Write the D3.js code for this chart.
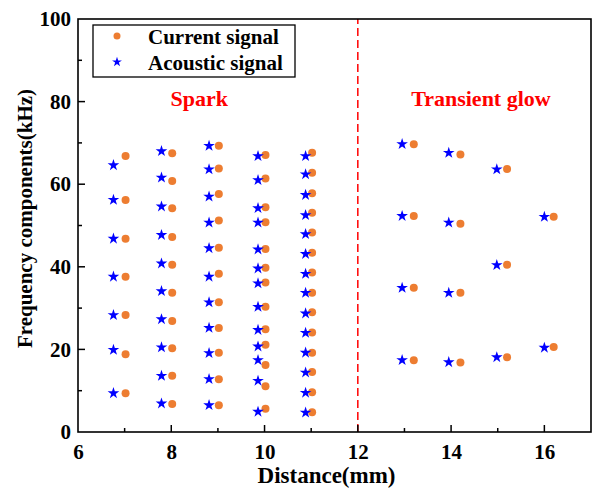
<!DOCTYPE html>
<html>
<head>
<meta charset="utf-8">
<script src="https://cdn.jsdelivr.net/npm/d3@7"></script>
<style>
  body { margin: 0; background: #fff; }
  text { font-family: "Liberation Serif", "Times New Roman", serif; font-weight: bold; }
</style>
</head>
<body>
<div id="chart"></div>
<script>
// x positions of each column (mm)
const currentX = [7.02, 8.02, 9.02, 10.02, 11.02, 13.2, 14.2, 15.2, 16.2];
const acousticX = [6.76, 7.79, 8.81, 9.86, 10.88, 12.95, 13.95, 14.98, 16.0];

// frequency components (kHz) per column
const currentFreq = [
  [66.8, 56.2, 46.8, 37.6, 28.3, 18.8, 9.4],
  [67.5, 60.8, 54.2, 47.2, 40.5, 33.7, 26.9, 20.3, 13.6, 6.8],
  [69.3, 63.8, 57.6, 51.2, 44.6, 38.3, 31.4, 25.2, 19.2, 12.8, 6.5],
  [67.1, 61.4, 54.4, 50.8, 44.3, 39.8, 36.2, 30.3, 24.9, 21.1, 16.2, 11.1, 5.6],
  [67.6, 62.8, 57.8, 53.1, 48.3, 43.4, 38.6, 33.7, 29.0, 24.1, 19.2, 14.5, 9.6, 4.8],
  [69.7, 52.3, 34.9, 17.4],
  [67.2, 50.4, 33.7, 16.8],
  [63.7, 40.5, 18.1],
  [52.1, 20.6]
];
const acousticFreq = [
  [64.6, 56.2, 46.8, 37.6, 28.3, 19.9, 9.4],
  [68.0, 61.6, 54.6, 47.7, 40.8, 34.1, 27.3, 20.5, 13.6, 6.9],
  [69.3, 63.6, 57.0, 50.7, 44.5, 37.6, 31.4, 25.2, 19.1, 12.8, 6.5],
  [66.8, 61.0, 54.2, 50.7, 44.2, 39.6, 36.0, 30.3, 24.7, 20.7, 17.4, 12.4, 4.9],
  [66.8, 62.4, 57.4, 52.5, 47.9, 43.1, 38.3, 33.7, 28.7, 24.0, 19.2, 14.4, 9.5, 4.7],
  [69.7, 52.3, 34.9, 17.4],
  [67.6, 50.7, 33.7, 16.9],
  [63.6, 40.4, 18.1],
  [52.1, 20.4]
];

const xTicks = [6, 8, 10, 12, 14, 16];
const yTicks = [0, 20, 40, 60, 80, 100];
const boundaryX = 12;
const regionLabels = [
  { text: "Spark", x: 8.6, y: 79 },
  { text: "Transient glow", x: 14.64, y: 79 }
];
const legendItems = ["Current signal", "Acoustic signal"];

const width = 593, height = 491;
const margin = { top: 19, right: 2, bottom: 59, left: 78 };
const orange = "#ED7D31", blue = "#0000FF", red = "#FF0000";

const svg = d3.select("#chart").append("svg")
  .attr("width", width)
  .attr("height", height);

const x = d3.scaleLinear().domain([6, 17]).range([margin.left, width - margin.right]);
const y = d3.scaleLinear().domain([0, 100]).range([height - margin.bottom, margin.top]);

// flatten points
const currentPts = [];
currentX.forEach((cx, i) => currentFreq[i].forEach(f => currentPts.push([cx, f])));
const acousticPts = [];
acousticX.forEach((ax, i) => acousticFreq[i].forEach(f => acousticPts.push([ax, f])));

// dashed boundary
svg.append("line")
  .attr("x1", x(boundaryX)).attr("x2", x(boundaryX))
  .attr("y1", y(0)).attr("y2", y(100))
  .attr("stroke", red)
  .attr("stroke-width", 1.5)
  .attr("stroke-dasharray", "8,4");

// axes
const xAxis = svg.append("g")
  .attr("transform", `translate(0,${y(0)})`)
  .call(d3.axisBottom(x).tickValues(xTicks).tickSize(0).tickPadding(12).tickFormat(d3.format("d")));
const yAxis = svg.append("g")
  .attr("transform", `translate(${x(6)},0)`)
  .call(d3.axisLeft(y).tickValues(yTicks).tickSize(0).tickPadding(7).tickFormat(d3.format("d")));
[xAxis, yAxis].forEach(g => {
  g.select(".domain").remove();
  g.selectAll("text").attr("font-size", 21).attr("fill", "#000")
    .attr("font-family", "Liberation Serif, Times New Roman, serif").attr("font-weight", "bold");
});
xAxis.selectAll("text").attr("dy", "0.71em");

// inward ticks
svg.append("g").selectAll("line")
  .data(d3.range(7, 17))
  .enter().append("line")
  .attr("x1", d => x(d)).attr("x2", d => x(d))
  .attr("y1", y(0)).attr("y2", d => y(0) - (d % 2 === 0 ? 7 : 4))
  .attr("stroke", "#000").attr("stroke-width", 1.5);
svg.append("g").selectAll("line")
  .data(d3.range(10, 100, 10))
  .enter().append("line")
  .attr("y1", d => y(d)).attr("y2", d => y(d))
  .attr("x1", x(6)).attr("x2", d => x(6) + (d % 20 === 0 ? 7 : 4))
  .attr("stroke", "#000").attr("stroke-width", 1.5);

// frame
svg.append("rect")
  .attr("x", x(6)).attr("y", y(100))
  .attr("width", x(17) - x(6)).attr("height", y(0) - y(100))
  .attr("fill", "none").attr("stroke", "#000").attr("stroke-width", 1.6);

// axis titles
svg.append("text")
  .attr("x", (x(6) + x(17)) / 2 - 8).attr("y", 483)
  .attr("text-anchor", "middle").attr("font-size", 23)
  .text("Distance(mm)");
svg.append("text")
  .attr("transform", `translate(32,${(y(0) + y(100)) / 2 - 7}) rotate(-90)`)
  .attr("text-anchor", "middle").attr("font-size", 21)
  .text("Frequency components(kHz)");

// points
svg.append("g").selectAll("circle")
  .data(currentPts)
  .enter().append("circle")
  .attr("cx", d => x(d[0])).attr("cy", d => y(d[1]))
  .attr("r", 4)
  .attr("fill", orange);
const star = d3.symbol().type(d3.symbolStar).size(42);
svg.append("g").selectAll("path")
  .data(acousticPts)
  .enter().append("path")
  .attr("transform", d => `translate(${x(d[0])},${y(d[1])})`)
  .attr("d", star)
  .attr("fill", blue);

// region labels
svg.append("g").selectAll("text")
  .data(regionLabels)
  .enter().append("text")
  .attr("x", d => x(d.x)).attr("y", d => y(d.y))
  .attr("text-anchor", "middle")
  .attr("font-size", 22)
  .attr("fill", red)
  .text(d => d.text);

// legend
const legend = svg.append("g");
legend.append("rect")
  .attr("x", 93).attr("y", 25).attr("width", 202).attr("height", 52)
  .attr("fill", "#fff").attr("stroke", "#000").attr("stroke-width", 1.3);
legend.append("circle").attr("cx", 117).attr("cy", 36).attr("r", 3.5).attr("fill", orange);
legend.append("path").attr("transform", "translate(117,62)")
  .attr("d", d3.symbol().type(d3.symbolStar).size(30)).attr("fill", blue);
legend.selectAll("text.leg")
  .data(legendItems)
  .enter().append("text")
  .attr("class", "leg")
  .attr("x", 148).attr("y", (d, i) => 44 + i * 26)
  .attr("font-size", 21)
  .text(d => d);
</script>
</body>
</html>
